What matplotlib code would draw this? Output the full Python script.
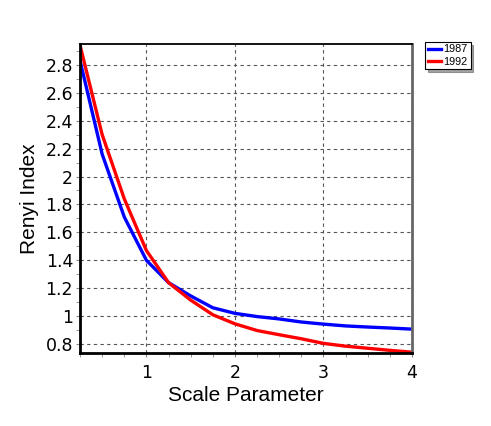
import numpy as np
import matplotlib
matplotlib.use("Agg")
import matplotlib.pyplot as plt
from matplotlib.ticker import MultipleLocator, FuncFormatter

plt.rcParams['font.family'] = ['Liberation Sans', 'DejaVu Sans']

# scale parameter steps
scale = [0.25, 0.5, 0.75, 1.0, 1.25, 1.5, 1.75, 2.0, 2.25, 2.5, 2.75, 3.0, 3.25, 3.5, 3.75, 4.0]
renyi_1987 = [2.83, 2.16, 1.71, 1.40, 1.24, 1.145, 1.06, 1.02, 0.997, 0.98, 0.958, 0.943, 0.93, 0.922, 0.915, 0.907]
renyi_1992 = [2.94, 2.30, 1.84, 1.47, 1.24, 1.115, 1.01, 0.945, 0.897, 0.867, 0.838, 0.805, 0.785, 0.77, 0.755, 0.742]

fig = plt.figure(figsize=(4.91, 4.26), dpi=100)
ax = fig.add_axes([0.163, 0.172, 0.676, 0.725])

ax.plot(scale, renyi_1987, color='#0000ff', lw=2.4, label='1987')
ax.plot(scale, renyi_1992, color='#ff0000', lw=2.4, label='1992')

ax.set_xlim(0.25, 4)
ax.set_ylim(0.738, 2.95)
ax.xaxis.set_major_locator(MultipleLocator(1))
ax.xaxis.set_minor_locator(MultipleLocator(0.25))
ax.yaxis.set_major_locator(MultipleLocator(0.2))
ax.yaxis.set_minor_locator(MultipleLocator(0.1))
ax.yaxis.set_major_formatter(FuncFormatter(lambda v, p: f"{v:g}"))

ax.grid(True, which='major', ls=(0, (3, 3)), color='#555555', lw=0.8)
ax.tick_params(which='both', direction='out', color='#888888', length=3)
ax.tick_params(axis='x', which='major', pad=5)
ax.tick_params(axis='y', which='major', pad=2)
for lbl in ax.get_xticklabels() + ax.get_yticklabels():
    lbl.set_family('DejaVu Sans')
    lbl.set_fontsize(12.5)

for s in ['left', 'bottom']:
    ax.spines[s].set_linewidth(2)
ax.spines['top'].set_linewidth(1.3)
ax.spines['right'].set_linewidth(2)
ax.spines['right'].set_color('#666666')

ax.set_xlabel('Scale Parameter', fontsize=15, labelpad=3)
ax.set_ylabel('Renyi Index', fontsize=15, labelpad=5)

leg = fig.legend(loc='upper left', bbox_to_anchor=(0.866, 0.902), fontsize=7.8,
                 frameon=True, fancybox=False, shadow=True, handlelength=1.2,
                 handletextpad=0.25, borderpad=0.25, labelspacing=0.2, borderaxespad=0)
leg.get_frame().set_edgecolor('black')
leg.get_frame().set_linewidth(0.8)

fig.savefig('out.png', dpi=100)
